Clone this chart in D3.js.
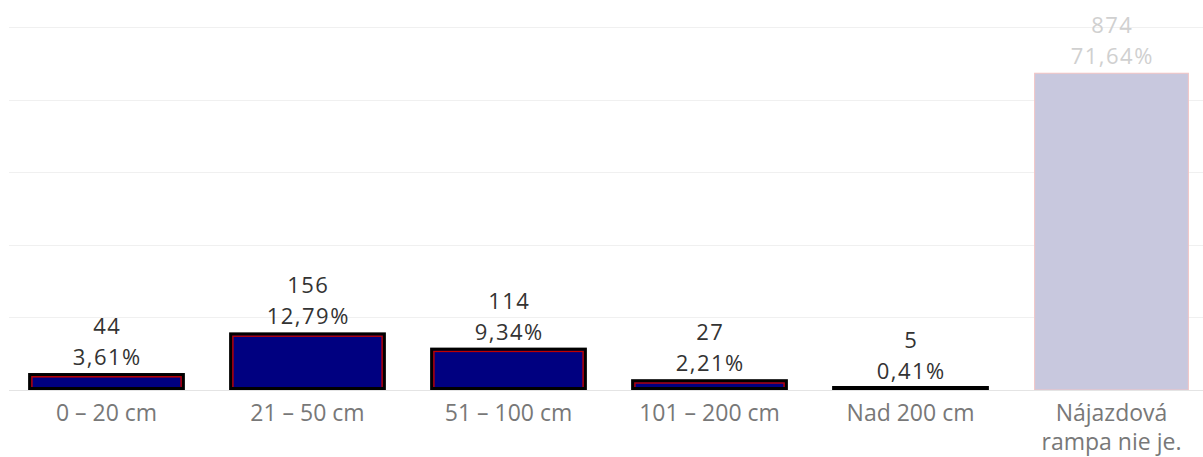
<!DOCTYPE html>
<html>
<head>
<meta charset="utf-8">
<script src="https://cdn.jsdelivr.net/npm/d3@7"></script>
<style>
  body { margin: 0; background: #fff; }
  text { font-family: "Open Sans", sans-serif; }
</style>
</head>
<body>
<div id="chart"></div>
<script>
const categories = ["0 – 20 cm", "21 – 50 cm", "51 – 100 cm", "101 – 200 cm", "Nad 200 cm", "Nájazdová rampa nie je."];
const counts = [44, 156, 114, 27, 5, 874];
const percents = ["3,61%", "12,79%", "9,34%", "2,21%", "0,41%", "71,64%"];
const gridTicks = [0, 200, 400, 600, 800, 1000];

const drawChart = () => {
  const width = 1203;
  const height = 457;
  const baseline = 390;

  const svg = d3.select("#chart")
    .append("svg")
    .attr("width", width)
    .attr("height", height);

  const x = d3.scaleBand()
    .domain(categories)
    .range([6, 1212])
    .paddingInner(0.22)
    .paddingOuter(0.11);

  const y = d3.scaleLinear()
    .domain([0, 1000])
    .range([baseline, 27]);

  // gridlines
  svg.append("g")
    .selectAll("line")
    .data(gridTicks.slice(1))
    .enter()
    .append("line")
    .attr("x1", 9)
    .attr("x2", width)
    .attr("y1", d => Math.round(y(d)) + 0.5)
    .attr("y2", d => Math.round(y(d)) + 0.5)
    .attr("stroke", "#f0f0f0")
    .attr("stroke-width", 1);

  const last = categories.length - 1;
  const bars = svg.append("g")
    .selectAll("g")
    .data(categories)
    .enter()
    .append("g");
  const dark = bars.filter((d, i) => i !== last);

  // outline box top, kept at least a few px thick for tiny bars
  const boxTop = i => Math.min(y(counts[i]) + 0.5, baseline - 2.5);

  // navy fill
  dark.append("rect")
    .attr("x", d => x(d) + 1.5)
    .attr("y", (d, i) => boxTop(i))
    .attr("width", x.bandwidth() - 3)
    .attr("height", (d, i) => baseline - 1.5 - boxTop(i))
    .attr("fill", "#000080");

  // inner red outline (bottom hidden under the black)
  dark.filter((d, i) => baseline - y(counts[i]) > 8)
    .append("rect")
    .attr("x", d => x(d) + 3.75)
    .attr("y", (d, i) => boxTop(i) + 2.25)
    .attr("width", x.bandwidth() - 7.5)
    .attr("height", (d, i) => baseline - boxTop(i) - 3)
    .attr("fill", "none")
    .attr("stroke", "#c00000")
    .attr("stroke-width", 1.5);

  // outer black outline
  dark.append("rect")
    .attr("x", d => x(d) + 1.5)
    .attr("y", (d, i) => boxTop(i))
    .attr("width", x.bandwidth() - 3)
    .attr("height", (d, i) => baseline - 1.5 - boxTop(i))
    .attr("fill", "none")
    .attr("stroke", "#000")
    .attr("stroke-width", 3);

  // faded last bar
  bars.filter((d, i) => i === last)
    .append("rect")
    .attr("x", d => x(d) + 1.5)
    .attr("y", (d, i) => y(counts[last]) + 0.5)
    .attr("width", x.bandwidth() - 3)
    .attr("height", baseline - y(counts[last]) - 0.5)
    .attr("fill", "#c8c8de")
    .attr("stroke", "#f2c4c4")
    .attr("stroke-width", 1);

  // baseline
  svg.append("line")
    .attr("x1", 9)
    .attr("x2", width)
    .attr("y1", baseline + 0.5)
    .attr("y2", baseline + 0.5)
    .attr("stroke", "#e4e4e4");

  // value labels
  categories.forEach((c, i) => {
    const cx = x(c) + x.bandwidth() / 2;
    const top = y(counts[i]);
    const col = i === last ? "#d0d0d0" : "#333";
    svg.append("text")
      .attr("x", cx + 0.75)
      .attr("y", top - 9)
      .attr("text-anchor", "middle")
      .attr("font-size", 22)
      .attr("letter-spacing", 1.5)
      .attr("fill", col)
      .text(percents[i]);
    svg.append("text")
      .attr("x", cx + 0.75)
      .attr("y", top - 40)
      .attr("text-anchor", "middle")
      .attr("font-size", 22)
      .attr("letter-spacing", 1.5)
      .attr("fill", col)
      .text(counts[i]);
  });

  // category axis labels
  const axis = svg.append("g")
    .attr("transform", `translate(0,${baseline})`)
    .call(d3.axisBottom(x).tickSize(0).tickPadding(0));
  axis.select(".domain").remove();
  axis.selectAll(".tick text").remove();
  axis.selectAll(".tick")
    .each(function (d) {
      const words = d === categories[last] ? ["Nájazdová", "rampa nie je."] : [d];
      const t = d3.select(this).append("text")
        .attr("text-anchor", "middle")
        .attr("font-size", 23)
        .attr("fill", "#787878");
      words.forEach((w, k) => {
        t.append("tspan")
          .attr("x", 0)
          .attr("y", 31 + k * 29)
          .text(w);
      });
    });
};

drawChart();
</script>
</body>
</html>
